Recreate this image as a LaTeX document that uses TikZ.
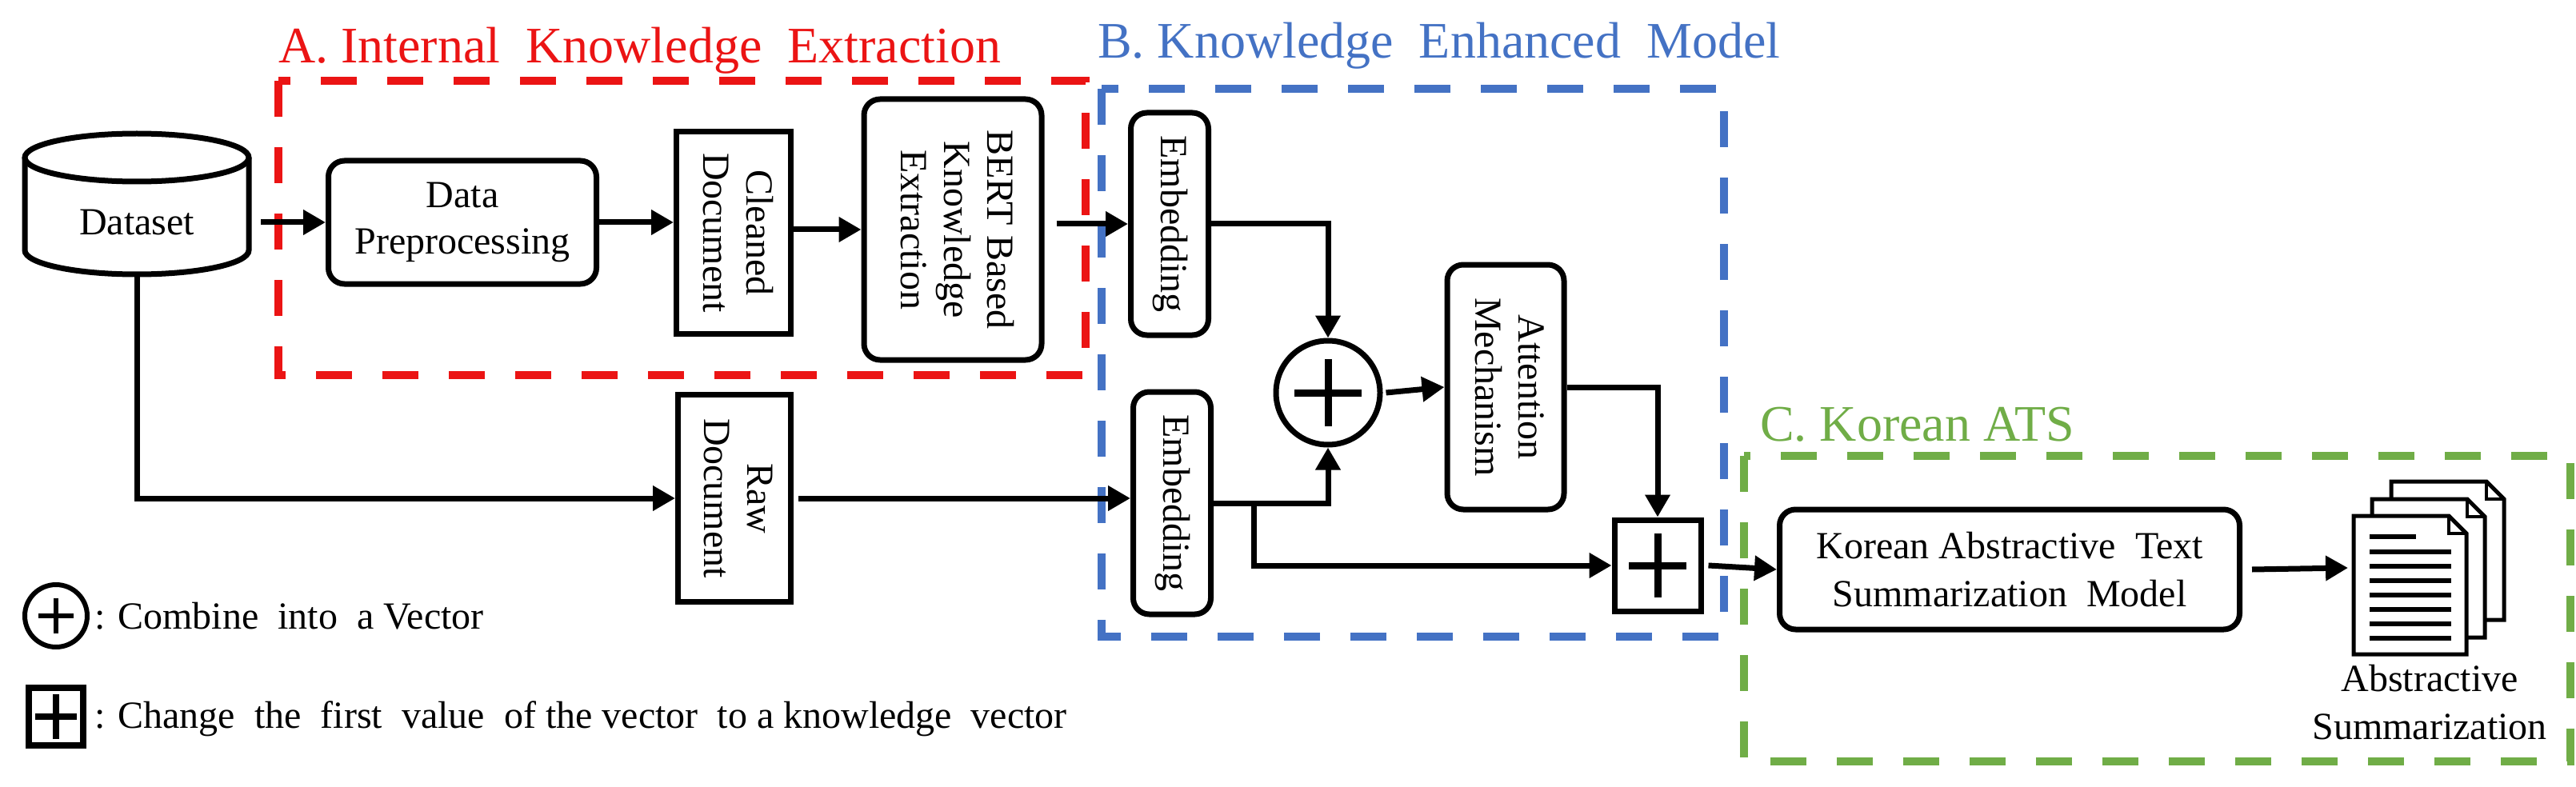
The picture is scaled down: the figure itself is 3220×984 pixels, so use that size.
\documentclass[tikz,border=0pt]{standalone}
\usepackage{fontspec}
\setmainfont{Liberation Serif}
\usetikzlibrary{arrows.meta}
\definecolor{cred}{RGB}{235,20,20}
\definecolor{cblue}{RGB}{68,114,196}
\definecolor{cgreen}{RGB}{112,173,71}
\newcommand{\rtx}[1]{\rotatebox{-90}{\begin{tabular}{@{}c@{}}#1\end{tabular}}}
\begin{document}
\begin{tikzpicture}[x=1pt,y=-1pt,
  txt/.style={font=\fontsize{48}{54}\selectfont},
  box/.style={draw,line width=7pt,rounded corners=20pt,align=center,inner sep=0pt,txt},
  sbox/.style={draw,line width=7pt,align=center,inner sep=0pt,txt},
  arr/.style={line width=7pt,-{Triangle[length=28pt,width=30pt]}},
  ln/.style={line width=7pt},
  dbox/.style={line width=10pt,dash pattern=on 45pt off 38pt},
  ttl/.style={font=\fontsize{64}{70}\selectfont,anchor=base west,inner sep=0pt}]
\useasboundingbox (0,0) rectangle (3220,984);
% titles and dashed groups
\draw[dbox,cred] (348,101) rectangle (1357,469);
\draw[dbox,cblue] (1377,111) rectangle (2155,796);
\draw[dbox,cgreen] (2180,570) rectangle (3213,952);
\node[ttl,cred] (ta) at (348,79) {A.\ Internal\ \ Knowledge\ \ Extraction};
\node[ttl,cblue] (tb) at (1372,73) {B.\ Knowledge\ \ Enhanced\ \ Model};
\node[ttl,cgreen] (tc) at (2200,551) {C.\ Korean\ ATS};
% dataset cylinder
\draw[ln] (31,197) -- (31,313) arc[start angle=180,end angle=0,x radius=140,y radius=30] -- (311,197);
\draw[ln] (171,197) ellipse[x radius=140,y radius=30];
\node[txt,minimum width=280pt,minimum height=130pt,inner sep=0pt] (ds) at (171,278) {Dataset};
\coordinate (dsb) at (171,343);
% boxes
\node[box,minimum width=335pt,minimum height=154pt] (dp) at (578,278) {Data\\[4pt]Preprocessing};
\node[sbox,minimum height=253pt,minimum width=143pt] (cd) at (917,291) {\rtx{Cleaned\\Document}};
\node[box,minimum height=326pt,minimum width=222pt] (bert) at (1191,287) {\rtx{BERT Based\\Knowledge\\Extraction}};
\node[sbox,minimum height=259pt,minimum width=141pt] (raw) at (918,623) {\rtx{Raw\\Document}};
\node[box,minimum height=278pt,minimum width=97pt] (e1) at (1462,280) {\rtx{Embedding}};
\node[box,minimum height=278pt,minimum width=97pt] (e2) at (1465,629) {\rtx{Embedding}};
\node[draw,circle,line width=7pt,minimum size=130pt,inner sep=0pt] (cp) at (1660,491) {};
\draw[line width=9pt] ([xshift=-42pt]cp.center) -- ([xshift=42pt]cp.center) ([yshift=-42pt]cp.center) -- ([yshift=42pt]cp.center);
\node[box,minimum height=306pt,minimum width=146pt] (att) at (1882,484) {\rtx{Attention\\Mechanism}};
\node[draw,line width=7pt,minimum width=108pt,minimum height=114pt,inner sep=0pt] (sq) at (2072,707) {};
\draw[line width=9pt] ([xshift=-36pt]sq.center) -- ([xshift=36pt]sq.center) ([yshift=-40pt]sq.center) -- ([yshift=40pt]sq.center);
\node[box,minimum width=575pt,minimum height=150pt] (kor) at (2512,712) {Korean Abstractive\ \ Text\\[6pt]Summarization\ \ Model};
% document icon
\foreach \dx/\dy in {47/-43,23/-21,0/0}{
  \draw[line width=5pt,fill=white] (2942+\dx,645+\dy) -- (3061+\dx,645+\dy) -- (3083+\dx,667+\dy) -- (3083+\dx,818+\dy) -- (2942+\dx,818+\dy) -- cycle;
  \draw[line width=4pt] (3061+\dx,645+\dy) -- (3061+\dx,667+\dy) -- (3083+\dx,667+\dy);
}
\draw[line width=6pt] (2962,671) -- (3020,671);
\foreach \yy in {690,708,726,744,762,780,798}{\draw[line width=6pt] (2962,\yy) -- (3064,\yy);}
\coordinate (docin) at (2935,710);
\node[txt,align=center,inner sep=0pt] (abs) at (3037,878) {Abstractive\\[6pt]Summarization};
% connectors
\draw[arr] ([xshift=15pt]ds.east) -- (dp.west);
\draw[arr] (dp.east) -- (cd.west |- dp.east);
\draw[arr] (cd.east |- bert.west) -- (bert.west);
\draw[arr] ([xshift=15pt]bert.east |- e1.west) -- (e1.west);
\draw[arr] (dsb) |- (raw.west);
\draw[arr] ([xshift=6pt]raw.east) -- (e2.west |- raw.east);
\draw[arr] (e1.east) -| (cp.north);
\draw[arr] (e2.east) -| (cp.south);
\coordinate (br) at (1567,629);
\draw[arr] (br) |- (sq.west);
\draw[arr] ([xshift=4pt]cp.east) -- (att.west);
\draw[arr] (att.east) -| (sq.north);
\draw[arr] ([xshift=6pt]sq.east) -- (kor.west);
\draw[arr] ([xshift=12pt]kor.east) -- (docin);
% legend
\node[draw,circle,line width=6pt,minimum size=78pt,inner sep=0pt] (lc) at (70,770) {};
\draw[line width=6pt] ([xshift=-22pt]lc.center) -- ([xshift=22pt]lc.center) ([yshift=-22pt]lc.center) -- ([yshift=22pt]lc.center);
\node[txt,anchor=west,inner sep=0pt] (lct) at (118,770) {: Combine\ \ into\ \ a Vector};
\node[draw,line width=8pt,minimum width=68pt,minimum height=72pt,inner sep=0pt] (ls) at (70,896) {};
\draw[line width=8pt] ([xshift=-26pt]ls.center) -- ([xshift=26pt]ls.center) ([yshift=-28pt]ls.center) -- ([yshift=28pt]ls.center);
\node[txt,anchor=west,inner sep=0pt] (lst) at (118,899) {: Change\ \ the\ \ first\ \ value\ \ of the vector\ \ to a knowledge\ \ vector};
\end{tikzpicture}
\end{document}
